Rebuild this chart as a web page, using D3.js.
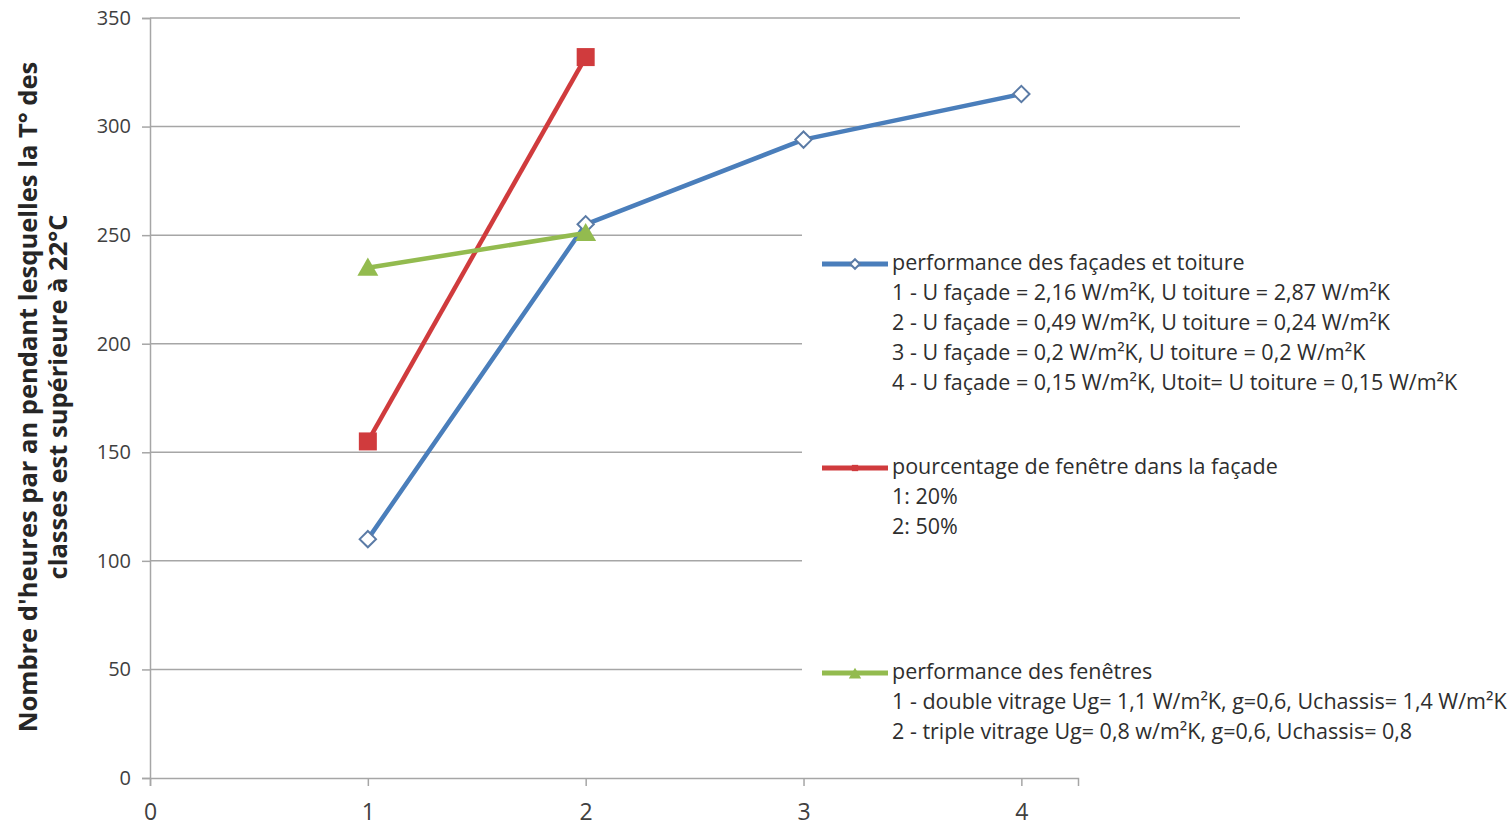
<!DOCTYPE html>
<html>
<head>
<meta charset="utf-8">
<script src="https://cdn.jsdelivr.net/npm/d3@7"></script>
<style>
  html, body { margin: 0; padding: 0; background: #fff; }
  svg { display: block; }
  text { font-family: "Open Sans", Lato, sans-serif; }
</style>
</head>
<body>
<svg id="chart" width="1512" height="827"></svg>
<script>
// Scenario index on the x axis
const xTicks = [0, 1, 2, 3, 4];
const yTicks = [0, 50, 100, 150, 200, 250, 300, 350];

// Hours per year above 22°C, per scenario
const facadeX = [1, 2, 3, 4];
const facadeY = [110, 255, 294, 315];
const windowPctX = [1, 2];
const windowPctY = [155, 332];
const windowPerfX = [1, 2];
const windowPerfY = [235, 251];

const facadeLegend = [
  "performance des façades et toiture",
  "1 - U façade = 2,16 W/m²K, U toiture = 2,87 W/m²K",
  "2 - U façade = 0,49 W/m²K, U toiture = 0,24 W/m²K",
  "3 - U façade = 0,2 W/m²K, U toiture = 0,2 W/m²K",
  "4 - U façade = 0,15 W/m²K, Utoit= U toiture = 0,15 W/m²K"
];
const windowPctLegend = [
  "pourcentage de fenêtre dans la façade",
  "1: 20%",
  "2: 50%"
];
const windowPerfLegend = [
  "performance des fenêtres",
  "1 - double vitrage Ug= 1,1 W/m²K, g=0,6, Uchassis= 1,4 W/m²K",
  "2 - triple vitrage Ug= 0,8 w/m²K, g=0,6, Uchassis= 0,8"
];

const yTitle = [
  "Nombre d'heures par an  pendant lesquelles la T° des",
  "classes est supérieure à 22°C"
];

const svg = d3.select("#chart");

const x = d3.scaleLinear().domain([0, 4.26]).range([150, 1078]);
const y = d3.scaleLinear().domain([0, 350]).range([778, 18]);

const gridColor = "#a6a6a6";
const labelColor = "#404040";

// Horizontal gridlines
svg.append("g")
  .selectAll("line")
  .data(yTicks.filter(d => d > 0))
  .join("line")
  .attr("x1", x(0)).attr("x2", 1240)
  .attr("y1", d => y(d)).attr("y2", d => y(d))
  .attr("stroke", gridColor).attr("stroke-width", 1.5);

// Y axis
const yAxis = svg.append("g")
  .attr("transform", `translate(${x(0)},0)`)
  .call(d3.axisLeft(y).tickValues(yTicks).tickSize(8).tickPadding(11));
yAxis.select(".domain").attr("stroke", gridColor).attr("stroke-width", 1.5);
yAxis.selectAll(".tick line").attr("stroke", gridColor).attr("stroke-width", 1.5);
yAxis.selectAll(".tick text")
  .attr("font-family", "'Open Sans', sans-serif")
  .attr("font-size", 20).attr("fill", labelColor);

// X axis
const xAxis = svg.append("g")
  .attr("transform", `translate(0,${y(0)})`)
  .call(d3.axisBottom(x).tickValues(xTicks).tickFormat(d3.format("d")).tickSize(8).tickPadding(18));
xAxis.select(".domain").attr("stroke", gridColor).attr("stroke-width", 1.5);
xAxis.selectAll(".tick line").attr("stroke", gridColor).attr("stroke-width", 1.5);
xAxis.selectAll(".tick text")
  .attr("font-family", "'Open Sans', sans-serif")
  .attr("font-size", 23).attr("fill", labelColor);

// Y axis title (two lines, rotated)
const title = svg.append("text")
  .attr("transform", "translate(30,397) rotate(-90)")
  .attr("text-anchor", "middle")
  .attr("font-size", 25.5).attr("font-weight", "bold").attr("fill", "#262626");
title.selectAll("tspan").data(yTitle).join("tspan")
  .attr("x", 0).attr("dy", (d, i) => i === 0 ? 0 : 30)
  .attr("dominant-baseline", "middle")
  .text(d => d);

// Legend background covers the grid on the right
svg.append("rect")
  .attr("x", 802).attr("y", 226).attr("width", 710).attr("height", 538)
  .attr("fill", "#fff");

const series = [
  { xs: facadeX, ys: facadeY, color: "#4a7ebb", marker: "diamond" },
  { xs: windowPctX, ys: windowPctY, color: "#d03b3d", marker: "square" },
  { xs: windowPerfX, ys: windowPerfY, color: "#93bb4f", marker: "triangle" }
];

const line = d3.line().x(d => x(d[0])).y(d => y(d[1]));

function drawMarker(g, type, color, cx, cy, scale) {
  if (type === "diamond") {
    g.append("path")
      .attr("d", d3.symbol(d3.symbolDiamond2, 170 * scale)())
      .attr("transform", `translate(${cx},${cy})`)
      .attr("fill", "#fff").attr("stroke", "#5b7ba6").attr("stroke-width", 2);
  } else if (type === "square") {
    const s = 18 * scale;
    g.append("rect")
      .attr("x", cx - s / 2).attr("y", cy - s / 2)
      .attr("width", s).attr("height", s)
      .attr("fill", color);
  } else {
    g.append("path")
      .attr("d", d3.symbol(d3.symbolTriangle, 190 * scale)())
      .attr("transform", `translate(${cx},${cy + 2})`)
      .attr("fill", color);
  }
}

series.forEach(s => {
  const pts = s.xs.map((v, i) => [v, s.ys[i]]);
  svg.append("path")
    .datum(pts)
    .attr("d", line)
    .attr("fill", "none")
    .attr("stroke", s.color)
    .attr("stroke-width", 4.5)
    .attr("stroke-linejoin", "round");
  const g = svg.append("g");
  pts.forEach(p => drawMarker(g, s.marker, s.color, x(p[0]), y(p[1]), 1));
});

// Legend entries
const legends = [
  { lines: facadeLegend, y0: 264, color: "#4a7ebb", marker: "diamond" },
  { lines: windowPctLegend, y0: 468, color: "#d03b3d", marker: "square" },
  { lines: windowPerfLegend, y0: 673, color: "#93bb4f", marker: "triangle" }
];
legends.forEach(L => {
  const g = svg.append("g");
  g.append("line")
    .attr("x1", 822).attr("x2", 888)
    .attr("y1", L.y0).attr("y2", L.y0)
    .attr("stroke", L.color).attr("stroke-width", 5);
  drawMarker(g, L.marker, L.color, 855, L.y0, 0.35);
  g.selectAll("text").data(L.lines).join("text")
    .attr("x", 892)
    .attr("y", (d, i) => L.y0 + i * 30)
    .attr("dominant-baseline", "middle")
    .attr("font-size", 21.5)
    .attr("fill", "#2e2e2e")
    .text(d => d);
});
</script>
</body>
</html>
